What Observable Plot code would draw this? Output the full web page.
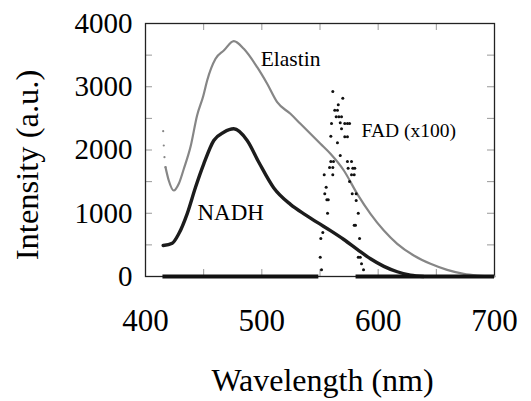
<!DOCTYPE html>
<html><head><meta charset="utf-8">
<script src="https://cdn.jsdelivr.net/npm/d3@7"></script>
<script src="https://cdn.jsdelivr.net/npm/@observablehq/plot@0.6"></script>
<style>html,body{margin:0;padding:0;background:#fff}</style>
</head><body><div id="chart"></div>
<script>
// Elastin emission (gray)
const elastinNm  = [415.2, 415.7, 416.3, 417.2, 420.0, 424.3, 428.6, 432.9, 438.7, 444.4, 449.6, 453.0, 460.2, 467.3, 475.9, 484.5, 496.0, 504.6, 513.2, 524.6, 533.2, 550.4, 559.0, 570.5, 582.0, 593.4, 604.9, 616.4, 630.6, 645.0, 659.3, 673.6, 685.1, 700];
const elastinVal = [2297, 2071, 1886, 1728, 1518, 1360, 1466, 1700, 2050, 2550, 2850, 3099, 3442, 3573, 3720, 3600, 3309, 3047, 2756, 2572, 2414, 2098, 1940, 1676, 1307, 991, 727, 517, 332, 200, 105, 42, 16, 0];
// NADH emission (black)
const nadhNm  = [415.2, 423.0, 428.6, 435.8, 443.0, 450.1, 458.7, 467.3, 475.9, 487.4, 497.4, 510.3, 524.6, 537.5, 547.6, 559.0, 570.5, 582.0, 593.4, 604.9, 616.4, 627.8, 639];
const nadhVal = [490, 527, 675, 991, 1412, 1782, 2150, 2281, 2335, 2150, 1807, 1400, 1140, 975, 855, 725, 585, 430, 280, 160, 75, 20, 0];
// FAD (x100) scattered points
const fadNm  = [561.0, 569.6, 565.7, 562.7, 565.0, 563.9, 566.2, 568.5, 559.9, 567.4, 571.3, 573.6, 575.4, 568.5, 559.3, 571.3, 573.6, 565.0, 567.4, 559.3, 561.6, 573.6, 577.1, 558.2, 561.0, 574.2, 578.2, 579.9, 553.6, 561.0, 577.1, 579.4, 575.4,
                555.3, 554.1, 555.9, 557.1, 556.5, 552.4, 550.7, 550.2, 551.3, 577.7, 581.1, 581.1, 582.9, 579.4, 580.5, 584.0, 582.9, 584.6, 585.7, 587.4];
const fadVal = [2925, 2819, 2715, 2629, 2629, 2525, 2525, 2525, 2419, 2430, 2419, 2419, 2419, 2335, 2218, 2209, 2209, 2114, 1913, 1818, 1818, 1818, 1818, 1723, 1723, 1712, 1712, 1712, 1608, 1608, 1608, 1608, 1502,
                1412, 1307, 1213, 1213, 1001, 696, 601, 305, 106, 1307, 1307, 1202, 1001, 811, 811, 601, 305, 305, 201, 106];
// FAD zero-level runs
const fadZeroStart = [415, 581];
const fadZeroEnd   = [549, 700];
// Axis ticks
const xLabelTicks = [400, 500, 600, 700];
const xMinorTicks = [450, 500, 550, 600, 650];
const yLabelTicks = [0, 1000, 2000, 3000, 4000];
const yMinorTicks = [500, 1000, 1500, 2000, 2500, 3000, 3500];
// Curve labels
const labelText = ["Elastin", "NADH", "FAD (x100)"];
const labelNm   = [499, 444.7, 585.7];
const labelVal  = [3431, 1012, 2308];
const labelSize = [21.5, 23, 19.5];

const elastin = elastinNm.map((x, i) => ({x, y: elastinVal[i]}));
const nadh = nadhNm.map((x, i) => ({x, y: nadhVal[i]}));
const fad = fadNm.map((x, i) => ({x, y: fadVal[i]}));
const fadZero = fadZeroStart.map((s, i) => ({x1: s, x2: fadZeroEnd[i]}));
const labels = labelText.map((t, i) => ({t, x: labelNm[i], y: labelVal[i], s: labelSize[i]}));

const FONT = "'Liberation Serif', 'Times New Roman', serif";
const W = 531, H = 401, mL = 145, mR = 37, mT = 23, mB = 125;
const plotH = H - mT - mB, plotW = W - mL - mR;

const chart = Plot.plot({
  width: W, height: H,
  marginLeft: mL, marginRight: mR, marginTop: mT, marginBottom: mB,
  style: {fontFamily: FONT, background: "#fff", color: "#000"},
  x: {domain: [400, 700], axis: null},
  y: {domain: [0, 4000], axis: null},
  marks: [
    Plot.tickX(xMinorTicks, {x: d => d, insetTop: plotH - 7, stroke: "#999", strokeWidth: 1}),
    Plot.tickX(xMinorTicks, {x: d => d, insetBottom: plotH - 7, stroke: "#999", strokeWidth: 1}),
    Plot.tickY(yMinorTicks, {y: d => d, insetRight: plotW - 7, stroke: "#999", strokeWidth: 1}),
    Plot.tickY(yMinorTicks, {y: d => d, insetLeft: plotW - 7, stroke: "#999", strokeWidth: 1}),
    Plot.frame({stroke: "#222", strokeWidth: 1.3}),
    Plot.axisX(xLabelTicks, {tickSize: 0, tickPadding: 32, fontSize: 31, fontFamily: FONT, label: null, fill: "#000"}),
    Plot.axisY(yLabelTicks, {tickSize: 0, tickPadding: 13, fontSize: 29, fontFamily: FONT, label: null, fill: "#000", tickFormat: d => String(d)}),
    Plot.text(["Wavelength (nm)"], {frameAnchor: "bottom", dx: 2.5, dy: 114, lineAnchor: "bottom", textAnchor: "middle", fontSize: 32, fontFamily: FONT, fill: "#000"}),
    Plot.text(["Intensity (a.u.)"], {frameAnchor: "left", dx: -108, dy: 15, rotate: -90, lineAnchor: "bottom", textAnchor: "middle", fontSize: 32.5, fontFamily: FONT, fill: "#000"}),
    Plot.line(elastin.filter(d => d.x >= 417), {x: "x", y: "y", stroke: "#868686", strokeWidth: 2.2, curve: "monotone-x"}),
    Plot.dot(elastin.filter(d => d.x < 418), {x: "x", y: "y", r: 1.1, fill: "#868686", stroke: null}),
    Plot.line(nadh, {x: "x", y: "y", stroke: "#1c1c1c", strokeWidth: 3.4, curve: "monotone-x"}),
    Plot.ruleY(fadZero, {y: 0, x1: "x1", x2: "x2", stroke: "#111", strokeWidth: 4}),
    Plot.dot(fad, {x: "x", y: "y", r: 1.5, fill: "#111", stroke: null}),
    Plot.text(labels, {x: "x", y: "y", text: "t", fontSize: "s", fontFamily: FONT, textAnchor: "start", lineAnchor: "middle", fill: "#000"})
  ]
});
document.getElementById("chart").appendChild(chart);
</script>
</body></html>
